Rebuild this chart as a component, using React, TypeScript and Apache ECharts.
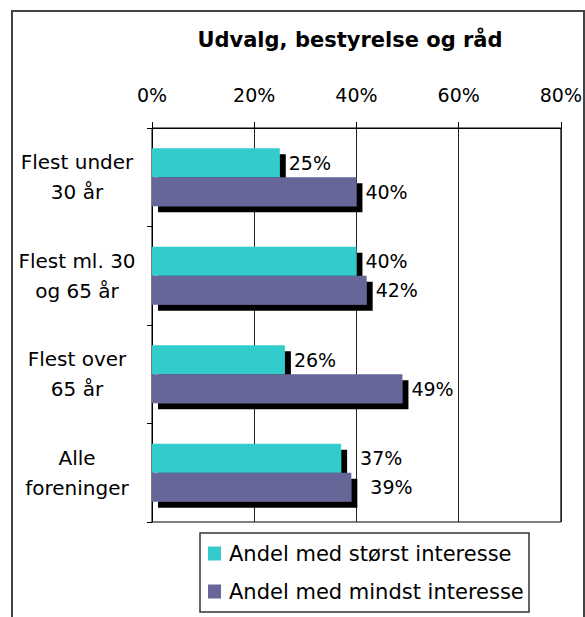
import React, { useEffect, useRef } from "react";
import * as echarts from "echarts";

const title = "Udvalg, bestyrelse og råd";
const categories = ["Flest under\n30 år", "Flest ml. 30\nog 65 år", "Flest over\n65 år", "Alle\nforeninger"];
const seriesNames = ["Andel med størst interesse", "Andel med mindst interesse"];
const largestInterest = [25, 40, 26, 37];
const smallestInterest = [40, 42, 49, 39];
const xTicks = [0, 20, 40, 60, 80];

const FONT = "DejaVu Sans";

export default function App() {
  const ref = useRef<HTMLDivElement>(null);
  useEffect(() => {
    if (!ref.current) return;
    const chart = echarts.init(ref.current, undefined, { renderer: "svg" });
    const makeData = (vals: number[]) =>
      vals.map((v, i) => (i === 3 ? { value: v, label: { distance: 19 } } : v));
    const barCommon = {
      type: "bar" as const,
      barWidth: 29,
      barGap: "0%",
      label: {
        show: true,
        position: "right" as const,
        distance: 9,
        formatter: "{c}%",
        fontFamily: FONT,
        fontSize: 19,
        color: "#000",
      },
    };
    const shadow = { shadowColor: "#000", shadowBlur: 0, shadowOffsetX: 6, shadowOffsetY: 6 };
    chart.setOption({
      animation: false,
      textStyle: { fontFamily: FONT },
      grid: {
        left: 152,
        top: 128,
        width: 411,
        height: 394,
        show: true,
        borderColor: "#000",
        borderWidth: 1,
        containLabel: false,
      },
      xAxis: {
        type: "value",
        position: "top",
        min: xTicks[0],
        max: xTicks[xTicks.length - 1],
        interval: 20,
        axisLine: { show: true, lineStyle: { color: "#000", width: 1 } },
        axisTick: { show: true, length: 6, lineStyle: { color: "#000" } },
        axisLabel: {
          formatter: "{value}%",
          fontFamily: FONT,
          fontSize: 19,
          color: "#000",
          margin: 24,
        },
        splitLine: { show: true, lineStyle: { color: "#222", width: 1 } },
      },
      yAxis: {
        type: "category",
        inverse: true,
        data: categories,
        axisLine: { show: true, lineStyle: { color: "#000", width: 1 } },
        axisTick: { show: true, length: 5, lineStyle: { color: "#000" } },
        axisLabel: {
          fontFamily: FONT,
          fontSize: 20,
          lineHeight: 30,
          color: "#000",
          align: "center",
          margin: 75,
        },
      },
      legend: {
        orient: "vertical",
        left: 208,
        top: 543,
        padding: 0,
        itemWidth: 13,
        itemHeight: 14,
        itemGap: 17,
        icon: "rect",
        data: seriesNames,
        textStyle: { fontFamily: FONT, fontSize: 21, color: "#000", padding: [0, 0, 0, 3] },
        itemStyle: { shadowBlur: 0, shadowOffsetX: 0, shadowOffsetY: 0, shadowColor: "rgba(0,0,0,0)" },
      },
      graphic: [
        {
          type: "rect",
          shape: { x: 12, y: 11, width: 572, height: 640 },
          style: { fill: "none", stroke: "#444", lineWidth: 2 },
          silent: true,
        },
        {
          type: "rect",
          shape: { x: 200, y: 533, width: 329, height: 79 },
          style: { fill: "none", stroke: "#333", lineWidth: 1.5 },
          silent: true,
        },
        {
          type: "text",
          x: 350,
          y: 40,
          style: {
            text: title,
            fontFamily: FONT,
            fontSize: 21,
            fontWeight: "bold",
            fill: "#000",
            align: "center",
            verticalAlign: "middle",
          },
          silent: true,
        },
      ],
      series: [
        {
          ...barCommon,
          name: seriesNames[0],
          data: makeData(largestInterest),
          itemStyle: { color: "#33CCCC", ...shadow },
        },
        {
          ...barCommon,
          name: seriesNames[1],
          data: makeData(smallestInterest),
          itemStyle: { color: "#666699", ...shadow },
        },
      ],
    });
    return () => chart.dispose();
  }, []);
  return (
    <div
      ref={ref}
      style={{ position: "fixed", left: 0, top: 0, width: 585, height: 617, background: "#fff" }}
    />
  );
}
